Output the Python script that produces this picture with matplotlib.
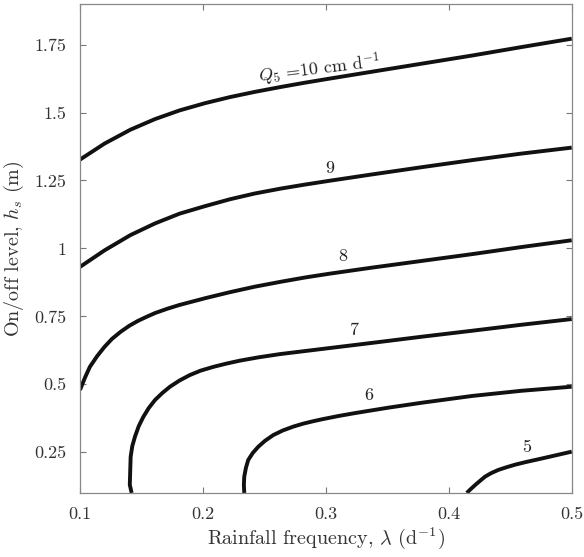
import matplotlib
matplotlib.use("Agg")
import matplotlib.pyplot as plt

plt.rcParams['font.family'] = ['cmr10', 'DejaVu Serif']
plt.rcParams['mathtext.fontset'] = 'cm'
plt.rcParams['axes.formatter.use_mathtext'] = True

# contour lines of Q5 (cm/d): lambda (1/d) vs h_s (m)
q10_x = [0.100, 0.120, 0.141, 0.161, 0.181, 0.202, 0.222, 0.242, 0.263, 0.283, 0.303, 0.337, 0.378, 0.419, 0.459, 0.500]
q10_y = [1.327, 1.386, 1.437, 1.476, 1.508, 1.535, 1.557, 1.576, 1.594, 1.610, 1.625, 1.650, 1.680, 1.710, 1.741, 1.772]

q9_x = [0.100, 0.120, 0.141, 0.161, 0.181, 0.202, 0.222, 0.242, 0.263, 0.283, 0.303, 0.337, 0.378, 0.419, 0.459, 0.500]
q9_y = [0.932, 0.993, 1.049, 1.092, 1.128, 1.156, 1.181, 1.202, 1.220, 1.235, 1.249, 1.272, 1.299, 1.325, 1.349, 1.371]

q8_x = [0.100, 0.104, 0.108, 0.114, 0.120, 0.126, 0.133, 0.140, 0.147, 0.154, 0.161, 0.171, 0.181, 0.202, 0.222, 0.242, 0.263, 0.283, 0.303, 0.337, 0.378, 0.419, 0.459, 0.500]
q8_y = [0.479, 0.524, 0.564, 0.604, 0.638, 0.667, 0.693, 0.715, 0.733, 0.748, 0.762, 0.778, 0.792, 0.817, 0.839, 0.859, 0.877, 0.893, 0.907, 0.929, 0.954, 0.979, 1.005, 1.030]

q7_x = [0.142, 0.1405, 0.1407, 0.1412, 0.1425, 0.1447, 0.1477, 0.1515, 0.156, 0.161, 0.167, 0.1732, 0.181, 0.1894, 0.198, 0.2084, 0.219, 0.2301, 0.245, 0.2626, 0.297, 0.337, 0.378, 0.419, 0.459, 0.500]
q7_y = [0.100, 0.130, 0.160, 0.233, 0.272, 0.307, 0.345, 0.380, 0.413, 0.442, 0.468, 0.491, 0.514, 0.534, 0.550, 0.564, 0.576, 0.587, 0.599, 0.611, 0.630, 0.652, 0.675, 0.697, 0.719, 0.740]

q6_x = [0.2336, 0.2333, 0.2336, 0.2350, 0.2368, 0.2405, 0.2450, 0.2505, 0.2572, 0.2650, 0.2734, 0.2815, 0.2897, 0.2967, 0.3100, 0.3238, 0.351, 0.378, 0.419, 0.459, 0.500]
q6_y = [0.100, 0.130, 0.160, 0.193, 0.221, 0.247, 0.270, 0.292, 0.313, 0.330, 0.344, 0.355, 0.364, 0.371, 0.383, 0.394, 0.414, 0.432, 0.457, 0.476, 0.491]

q5_x = [0.4146, 0.4180, 0.4214, 0.4255, 0.4295, 0.4345, 0.4404, 0.4465, 0.4539, 0.4629, 0.4729, 0.4865, 0.500]
q5_y = [0.100, 0.115, 0.129, 0.145, 0.160, 0.173, 0.185, 0.194, 0.204, 0.214, 0.224, 0.238, 0.252]

curves = [(q10_x, q10_y), (q9_x, q9_y), (q8_x, q8_y), (q7_x, q7_y), (q6_x, q6_y), (q5_x, q5_y)]

# inline labels: text, x, y, rotation
label_text = [r'$Q_5$ =10 cm d$^{-1}$', '9', '8', '7', '6', '5']
label_x = [0.295, 0.3035, 0.3136, 0.323, 0.3347, 0.4634]
label_y = [1.660, 1.293, 0.972, 0.699, 0.458, 0.268]
label_rot = [7, 0, 0, 0, 0, 0]

fig = plt.figure(figsize=(5.84, 5.57), dpi=100)
ax = fig.add_axes([0.137, 0.115, 0.842, 0.878])

for cx, cy in curves:
    ax.plot(cx, cy, color='#111111', lw=2.8, solid_capstyle='butt', solid_joinstyle='round')

for t, lx, ly, r in zip(label_text, label_x, label_y, label_rot):
    ax.text(lx, ly, t, fontsize=13, ha='center', va='center', rotation=r, color='#222222')

ax.set_xlim(0.1, 0.5)
ax.set_ylim(0.1, 1.9)
ax.set_xticks([0.1, 0.2, 0.3, 0.4, 0.5])
ax.set_xticklabels(['0.1', '0.2', '0.3', '0.4', '0.5'])
ax.set_yticks([0.25, 0.5, 0.75, 1.0, 1.25, 1.5, 1.75])
ax.set_yticklabels(['0.25', '0.5', '0.75', '1', '1.25', '1.5', '1.75'])
ax.tick_params(direction='in', top=True, right=True, length=4, width=0.8,
               color='#777777', labelsize=13, labelcolor='#333333', pad=10)
for s in ax.spines.values():
    s.set_color('#888888')
    s.set_linewidth(0.9)

ax.set_xlabel(r'Rainfall frequency, $\lambda$ (d$^{-1}$)', fontsize=14.5, color='#333333', labelpad=2)
ax.set_ylabel(r'On/off level, $h_s$ (m)', fontsize=14.5, color='#333333', labelpad=6)

fig.savefig('out.png', dpi=100)
